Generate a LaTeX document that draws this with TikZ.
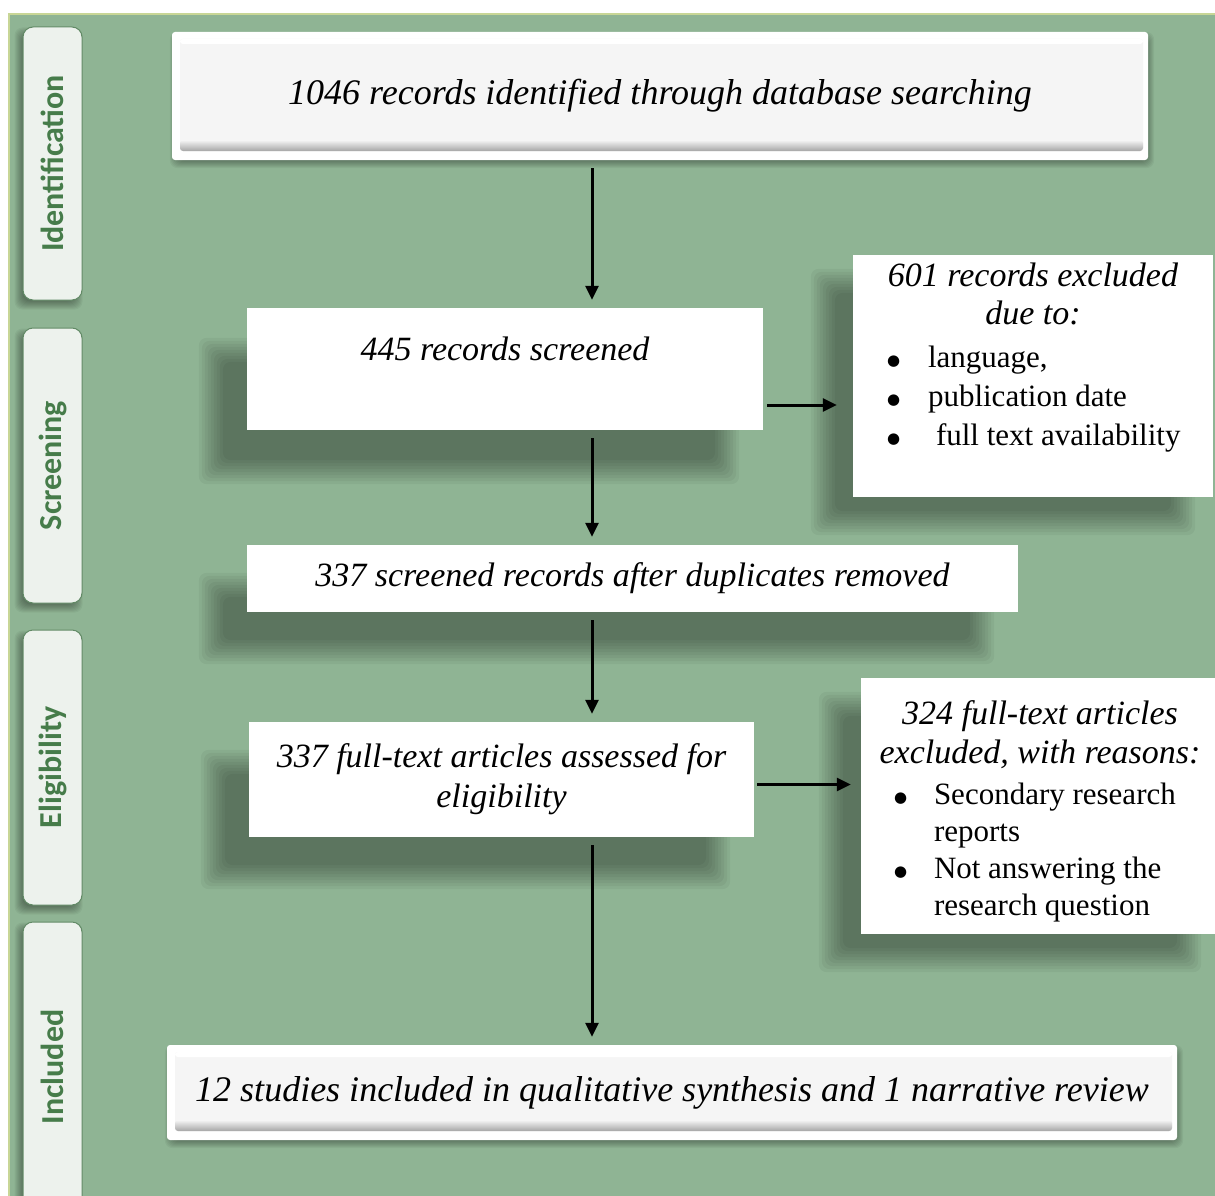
\documentclass[tikz,border=0pt]{standalone}
\usepackage{fontspec}
\setmainfont{Liberation Serif}
\newfontfamily\tabfont{Carlito}
\newfontfamily\dotfont{DejaVu Sans}
\usetikzlibrary{positioning,arrows.meta}

\definecolor{prismabg}{RGB}{143,180,148}
\definecolor{tabfill}{RGB}{237,242,237}
\definecolor{tabedge}{RGB}{98,138,102}
\definecolor{tabtext}{RGB}{70,124,74}
\definecolor{edgeline}{RGB}{200,214,150}
\definecolor{panel}{RGB}{245,245,245}

\pgfdeclarelayer{bg}
\pgfsetlayers{bg,main}

% soft shadow: corner, opposite corner, x offset, y offset, spread step
\newcommand\castshadow[5]{%
  \foreach \k in {-4,...,4}
    \fill[black, opacity=0.045, rounded corners=8pt]
      ([xshift={#3-\k*#5}, yshift={#4+\k*#5}]#1) rectangle
      ([xshift={#3+\k*#5}, yshift={#4-\k*#5}]#2);
}
\newcommand\dotitem{\raisebox{2pt}{\dotfont\fontsize{15}{15}\selectfont ●}}

\tikzset{
  phase/.style={draw=tabedge, line width=1pt, fill=tabfill, rounded corners=10pt,
    rotate=90, minimum height=59pt, inner sep=0pt, text=tabtext,
    font=\tabfont\bfseries\fontsize{32}{36}\selectfont},
  bevelbox/.style={fill=white, rounded corners=3pt, inner sep=0pt, align=center,
    font=\fontsize{36}{42}\selectfont\itshape,
    path picture={
      \fill[panel] ([xshift=8pt,yshift=-7pt]path picture bounding box.north west)
        rectangle ([xshift=-5pt,yshift=9pt]path picture bounding box.south east);
      \shade[top color=panel, bottom color=gray!70]
        ([xshift=8pt,yshift=20pt]path picture bounding box.south west)
        rectangle ([xshift=-5pt,yshift=9pt]path picture bounding box.south east);
      \fill[white] ([xshift=8pt,yshift=-7pt]path picture bounding box.north west)
        rectangle ([xshift=-5pt,yshift=-12pt]path picture bounding box.north east);
    }},
  stepbox/.style={fill=white, inner sep=0pt, align=center,
    font=\fontsize{34}{40}\selectfont\itshape},
  sidebox/.style={fill=white, inner sep=0pt},
  flow/.style={->, line width=3pt, shorten <=8pt, shorten >=8pt}
}

\begin{document}
\begin{tikzpicture}[x=1pt,y=-1pt,>={Triangle[length=14pt,width=13pt]}]
\useasboundingbox (0,0) rectangle (1215,1196);
\begin{pgfonlayer}{bg}
\fill[white] (0,0) rectangle (1215,1196);
\fill[prismabg] (9,14) rectangle (1215,1196);
\draw[edgeline, line width=1.5pt] (9,1196) -- (9,14) -- (1215,14);
\end{pgfonlayer}

% phase tabs
\node[phase, minimum width=273pt] (tabid) at (52.5,163.5) {Identification};
\node[phase, minimum width=275pt] (tabscr) at (52.5,465.5) {Screening};
\node[phase, minimum width=275pt] (tabelig) at (52.5,767.5) {Eligibility};
\node[phase, minimum width=290pt] (tabinc) at (52.5,1067) {Included};

% boxes
\node[bevelbox, minimum width=976pt, minimum height=128pt] (ident) at (660,96)
  {1046 records identified through database searching};
\node[stepbox, minimum width=516pt, minimum height=122pt] (screen) at (505,369)
  {445 records screened\\\mbox{}};
\node[stepbox, minimum width=771pt, minimum height=67pt] (dedup) at (632.5,578.5)
  {337 screened records after duplicates removed};
\node[stepbox, minimum width=505pt, minimum height=115pt] (fulltext) at (501.5,779.5)
  {337 full-text articles assessed for\\eligibility};
\node[bevelbox, minimum width=1010pt, minimum height=95pt] (incl) at (672,1092.5)
  {12 studies included in qualitative synthesis and 1 narrative review};

\node[sidebox, minimum width=360pt, minimum height=242pt] (excla) at (1033,376)
  {\parbox[c][226pt][t]{340pt}{%
    {\centering\fontsize{34}{38}\selectfont\itshape 601 records excluded\\due to:\par}
    \vspace{4pt}
    {\fontsize{31}{39}\selectfont\noindent
    \hspace*{24pt}\makebox[41pt][l]{\dotitem}language,\\
    \hspace*{24pt}\makebox[41pt][l]{\dotitem}publication date\\
    \hspace*{24pt}\makebox[41pt][l]{\dotitem}\hspace{8pt}full text availability\par}}};
\node[sidebox, minimum width=358pt, minimum height=256pt] (exclb) at (1040,806)
  {\parbox[c][210pt][t]{340pt}{%
    {\centering\fontsize{34}{39}\selectfont\itshape 324 full-text articles\\excluded, with reasons:\par}
    \vspace{4pt}
    {\fontsize{31}{37}\selectfont\noindent
    \hspace*{24pt}\makebox[40pt][l]{\dotitem}Secondary research\\
    \hspace*{64pt}reports\\
    \hspace*{24pt}\makebox[40pt][l]{\dotitem}Not answering the\\
    \hspace*{64pt}research question\par}}};

% shadows
\begin{pgfonlayer}{bg}
\foreach \t in {tabid,tabscr,tabelig,tabinc}
  \castshadow{\t.north east}{\t.south west}{-4pt}{-5pt}{1pt};
\castshadow{ident.north west}{ident.south east}{2pt}{-4pt}{1pt}
\castshadow{incl.north west}{incl.south east}{2pt}{-4pt}{1pt}
\castshadow{screen.north west}{screen.south east}{-36pt}{-42pt}{3pt}
\castshadow{dedup.north west}{dedup.south east}{-36pt}{-40pt}{3pt}
\castshadow{fulltext.north west}{fulltext.south east}{-36pt}{-40pt}{3pt}
\castshadow{excla.north west}{excla.south east}{-30pt}{-26pt}{3pt}
\castshadow{exclb.north west}{exclb.south east}{-30pt}{-26pt}{3pt}
\end{pgfonlayer}

% connectors
\coordinate (spine) at (592,0);
\draw[flow] (ident.south -| spine) -- (screen.north -| spine);
\draw[flow] (screen.south -| spine) -- (dedup.north -| spine);
\draw[flow] (dedup.south -| spine) -- (fulltext.north -| spine);
\draw[flow] (fulltext.south -| spine) -- (incl.north -| spine);
\draw[flow, shorten <=4pt, shorten >=16pt] ([yshift=-36pt]screen.east) -- ([yshift=-36pt]screen.east -| excla.west);
\draw[flow, shorten <=3pt, shorten >=10pt] ([yshift=-5pt]fulltext.east) -- ([yshift=-5pt]fulltext.east -| exclb.west);
\end{tikzpicture}
\end{document}
